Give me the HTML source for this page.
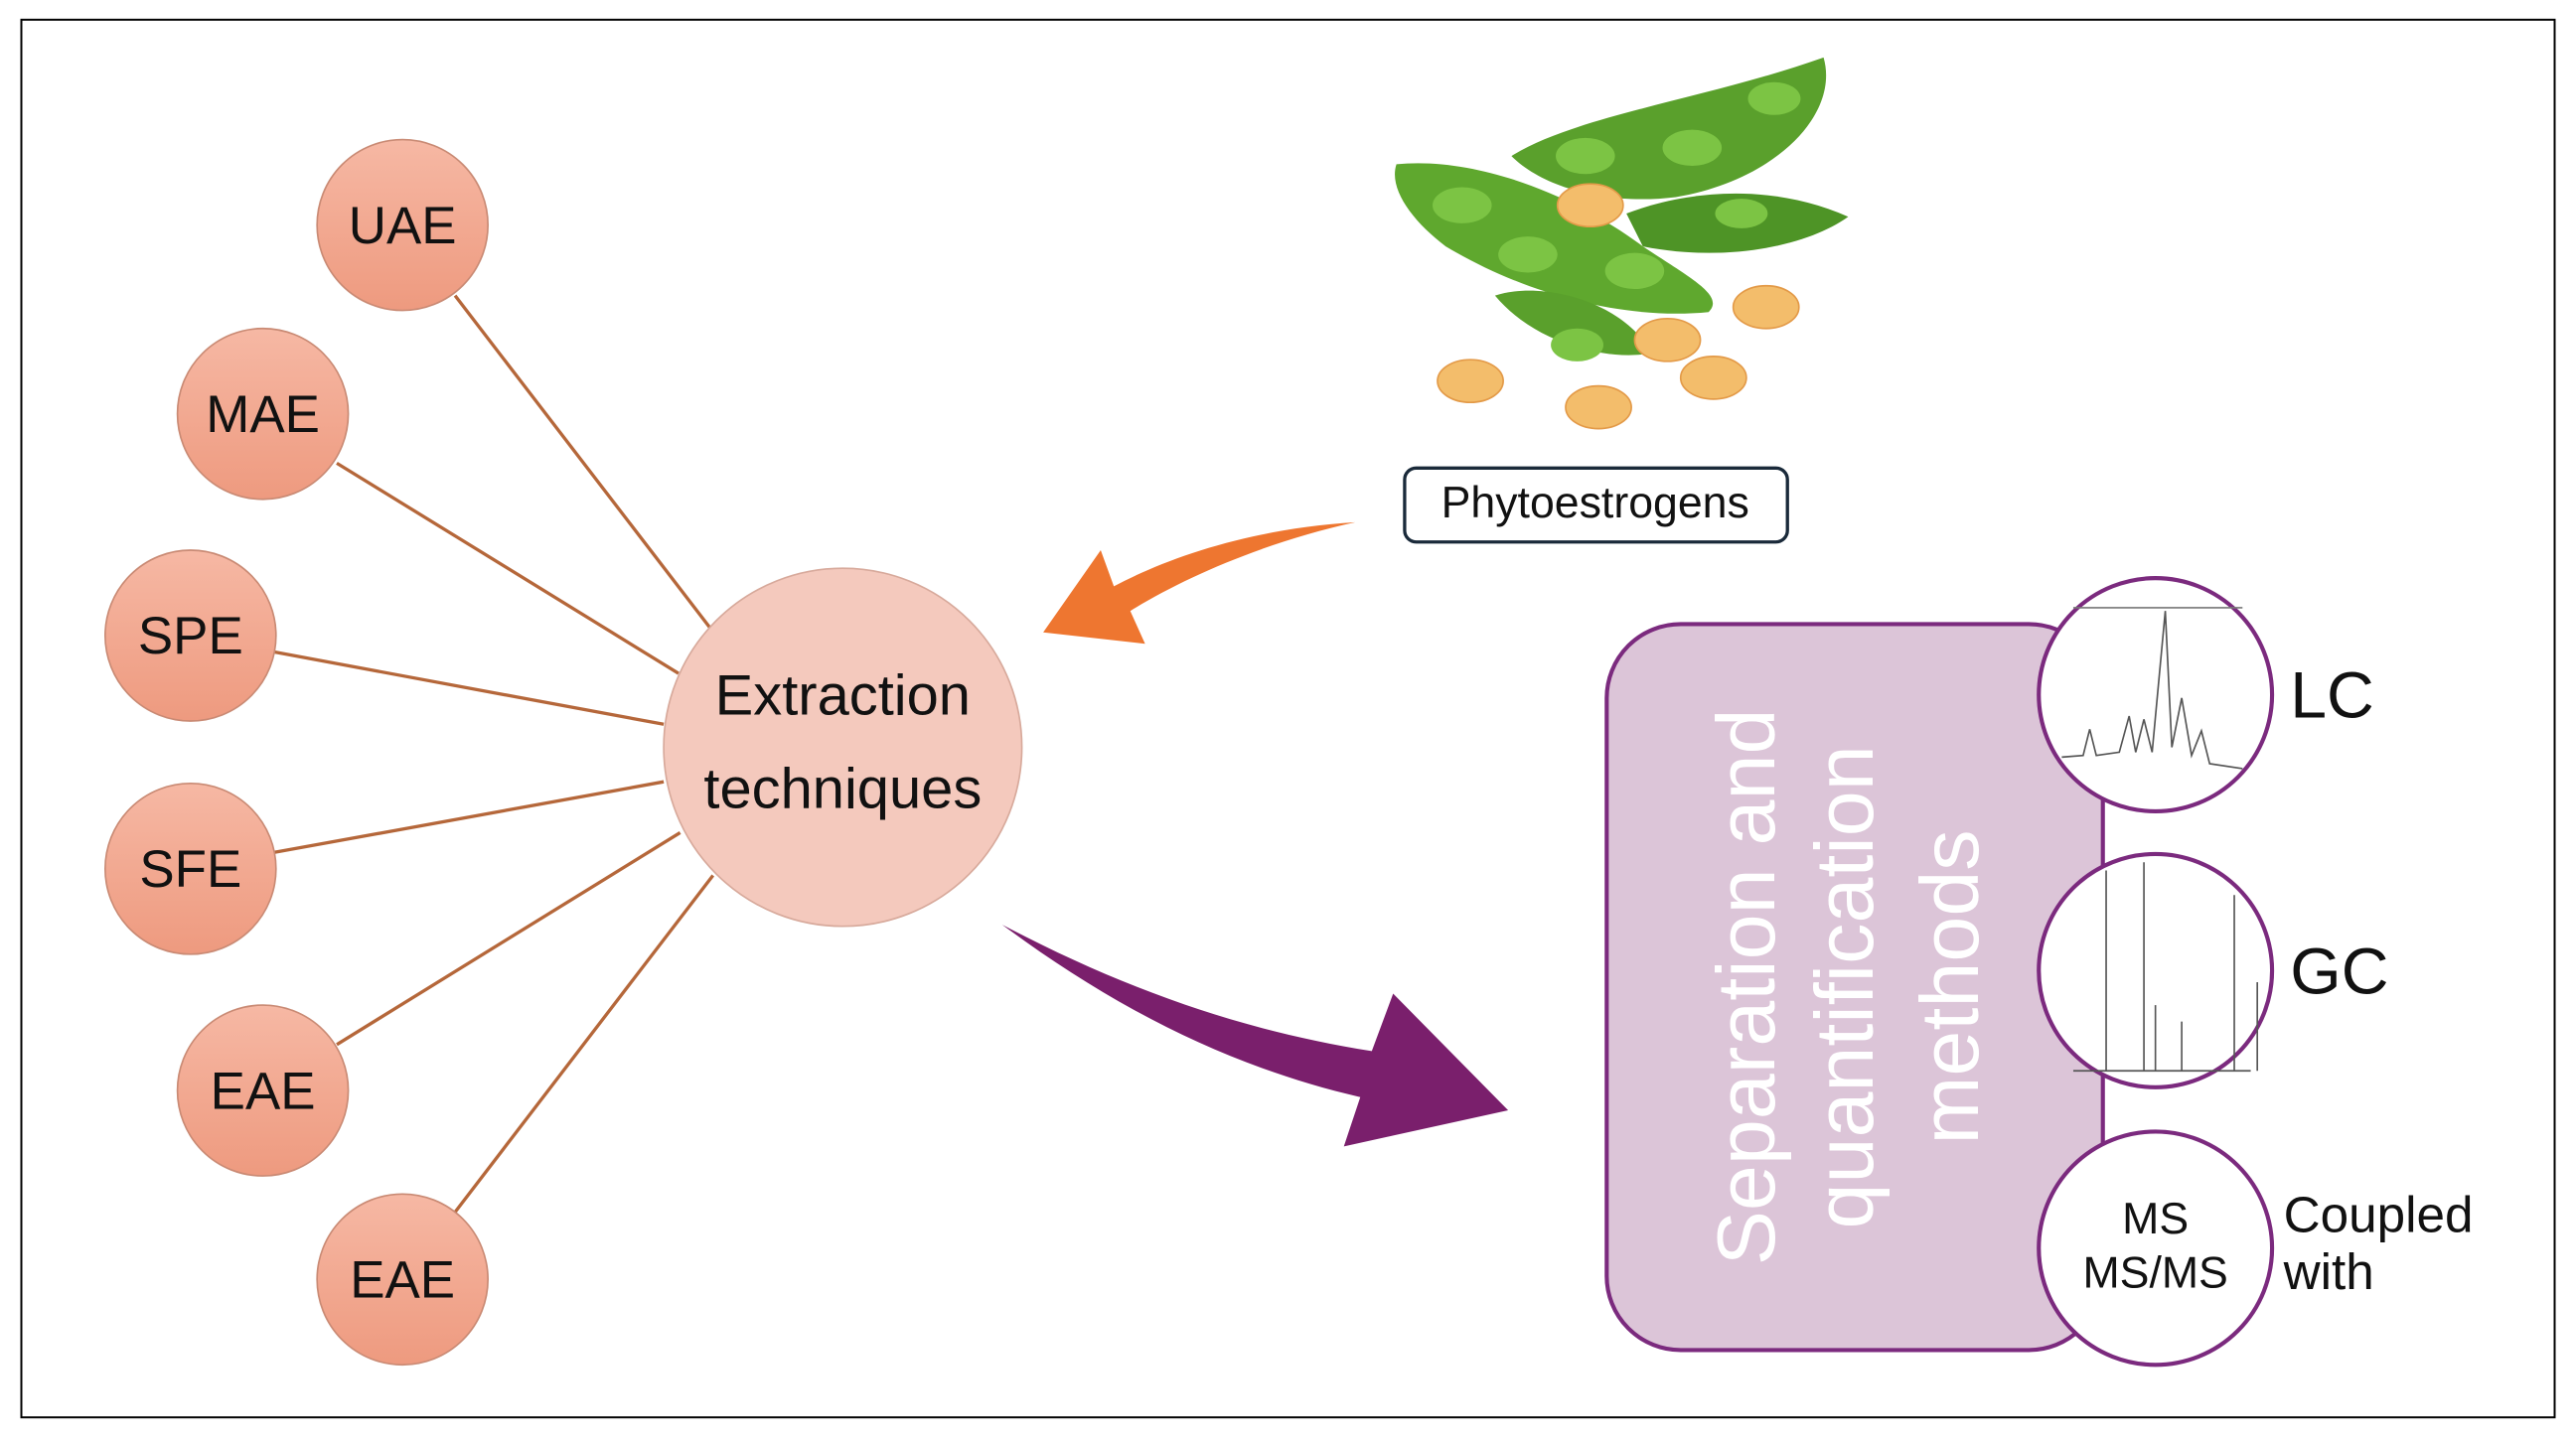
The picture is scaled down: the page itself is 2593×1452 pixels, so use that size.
<!DOCTYPE html>
<html><head><meta charset="utf-8"><style>
html,body{margin:0;padding:0;background:#fff}
svg{display:block}
text{font-family:"Liberation Sans",sans-serif}
</style></head><body>
<svg width="2593" height="1452" viewBox="0 0 1568 878" preserveAspectRatio="none">
<defs>
<linearGradient id="sg" x1="0" y1="0" x2="0" y2="1"><stop offset="0" stop-color="#f6b8a4"/><stop offset="1" stop-color="#ee9a7f"/></linearGradient>
</defs>
<rect x="13" y="12" width="1542" height="851" fill="#fff" stroke="#000" stroke-width="1.2"/>
<g stroke="#b5673a" stroke-width="2">
<line x1="277" y1="180" x2="432" y2="382"/>
<line x1="205" y1="282" x2="413" y2="410"/>
<line x1="167" y1="397" x2="404" y2="441"/>
<line x1="167" y1="519" x2="404" y2="476"/>
<line x1="205" y1="636" x2="414" y2="507"/>
<line x1="277" y1="738" x2="434" y2="533"/>
</g>
<g stroke="#c98a74" stroke-width="1" fill="url(#sg)">
<circle cx="245" cy="137" r="52"/><circle cx="160" cy="252" r="52"/>
<circle cx="116" cy="387" r="52"/><circle cx="116" cy="529" r="52"/>
<circle cx="160" cy="664" r="52"/><circle cx="245" cy="779" r="52"/>
</g>
<g font-size="32" text-anchor="middle" fill="#111">
<text x="245" y="148">UAE</text><text x="160" y="263">MAE</text>
<text x="116" y="398">SPE</text><text x="116" y="540">SFE</text>
<text x="160" y="675">EAE</text><text x="245" y="790">EAE</text>
</g>
<circle cx="513" cy="455" r="109" fill="#f4c9bd" stroke="#d7a99b" stroke-width="1"/>
<text x="513" y="435" font-size="35" text-anchor="middle" fill="#111">Extraction</text>
<text x="513" y="492" font-size="35" text-anchor="middle" fill="#111">techniques</text>
<path d="M825,318 C760,322 710,340 678,357 L670,335 L635,385 L697,392 L688,372 C720,352 770,330 825,318 Z" fill="#ee7630"/>
<path d="M610,563 C690,605 760,628 835,640 L848,605 L918,676 L818,698 L828,668 C750,650 680,615 610,563 Z" fill="#7a1f6c"/>
<g>
<path d="M920,95 C960,70 1040,60 1110,35 C1120,70 1080,110 1020,120 C980,125 940,115 920,95 Z" fill="#5aa02c"/>
<path d="M850,100 C900,95 960,120 1000,150 C1030,170 1050,180 1040,190 C990,195 930,180 880,150 C860,135 845,115 850,100 Z" fill="#5fa82e"/>
<path d="M990,130 C1030,115 1080,112 1125,132 C1100,150 1050,160 1000,150 Z" fill="#4e9426"/>
<path d="M910,180 C940,170 990,185 1005,215 C980,220 935,210 910,180 Z" fill="#5aa02c"/>
<g fill="#7cc444">
<ellipse cx="965" cy="95" rx="18" ry="11"/><ellipse cx="1030" cy="90" rx="18" ry="11"/><ellipse cx="1080" cy="60" rx="16" ry="10"/>
<ellipse cx="890" cy="125" rx="18" ry="11"/><ellipse cx="930" cy="155" rx="18" ry="11"/><ellipse cx="995" cy="165" rx="18" ry="11"/>
<ellipse cx="1060" cy="130" rx="16" ry="9"/><ellipse cx="960" cy="210" rx="16" ry="10"/>
</g>
<g fill="#f3bd6b" stroke="#e39a48" stroke-width="1">
<ellipse cx="968" cy="125" rx="20" ry="13"/><ellipse cx="1075" cy="187" rx="20" ry="13"/>
<ellipse cx="1015" cy="207" rx="20" ry="13"/><ellipse cx="1043" cy="230" rx="20" ry="13"/>
<ellipse cx="895" cy="232" rx="20" ry="13"/><ellipse cx="973" cy="248" rx="20" ry="13"/>
</g>
</g>
<rect x="855" y="285" width="233" height="45" rx="7" fill="#fff" stroke="#1a2a3a" stroke-width="2"/>
<text x="971" y="315" font-size="27" text-anchor="middle" fill="#111">Phytoestrogens</text>
<rect x="978" y="380" width="302" height="442" rx="45" fill="#dcc5d8" stroke="#7b2a7e" stroke-width="2.5"/>
<g font-size="50" fill="#fff" text-anchor="middle">
<text transform="translate(1080,601) rotate(-90)">Separation and</text>
<text transform="translate(1140,601) rotate(-90)">quantification</text>
<text transform="translate(1204,601) rotate(-90)">methods</text>
</g>
<g fill="#fff" stroke="#7b2a7e" stroke-width="2.5">
<circle cx="1312" cy="423" r="71"/><circle cx="1312" cy="591" r="71"/><circle cx="1312" cy="760" r="71"/>
</g>
<polyline points="1255,461 1268,460 1272,444 1276,460 1290,458 1296,436 1300,458 1305,438 1310,458 1318,372 1322,455 1328,425 1334,460 1340,445 1345,465 1365,468" fill="none" stroke="#555" stroke-width="1"/>
<line x1="1262" y1="370" x2="1365" y2="370" stroke="#777" stroke-width="1"/>
<g stroke="#555" stroke-width="1">
<line x1="1282" y1="530" x2="1282" y2="652"/><line x1="1305" y1="525" x2="1305" y2="652"/>
<line x1="1312" y1="612" x2="1312" y2="652"/><line x1="1328" y1="622" x2="1328" y2="652"/>
<line x1="1360" y1="545" x2="1360" y2="652"/><line x1="1374" y1="598" x2="1374" y2="652"/>
<line x1="1262" y1="652" x2="1370" y2="652"/>
</g>
<text x="1394" y="437" font-size="40" fill="#111">LC</text>
<text x="1394" y="605" font-size="40" fill="#111">GC</text>
<text x="1312" y="751" font-size="27" text-anchor="middle" fill="#111">MS</text>
<text x="1312" y="784" font-size="27" text-anchor="middle" fill="#111">MS/MS</text>
<text x="1390" y="750" font-size="31" fill="#111">Coupled</text>
<text x="1390" y="785" font-size="31" fill="#111">with</text>
</svg>
</body></html>
